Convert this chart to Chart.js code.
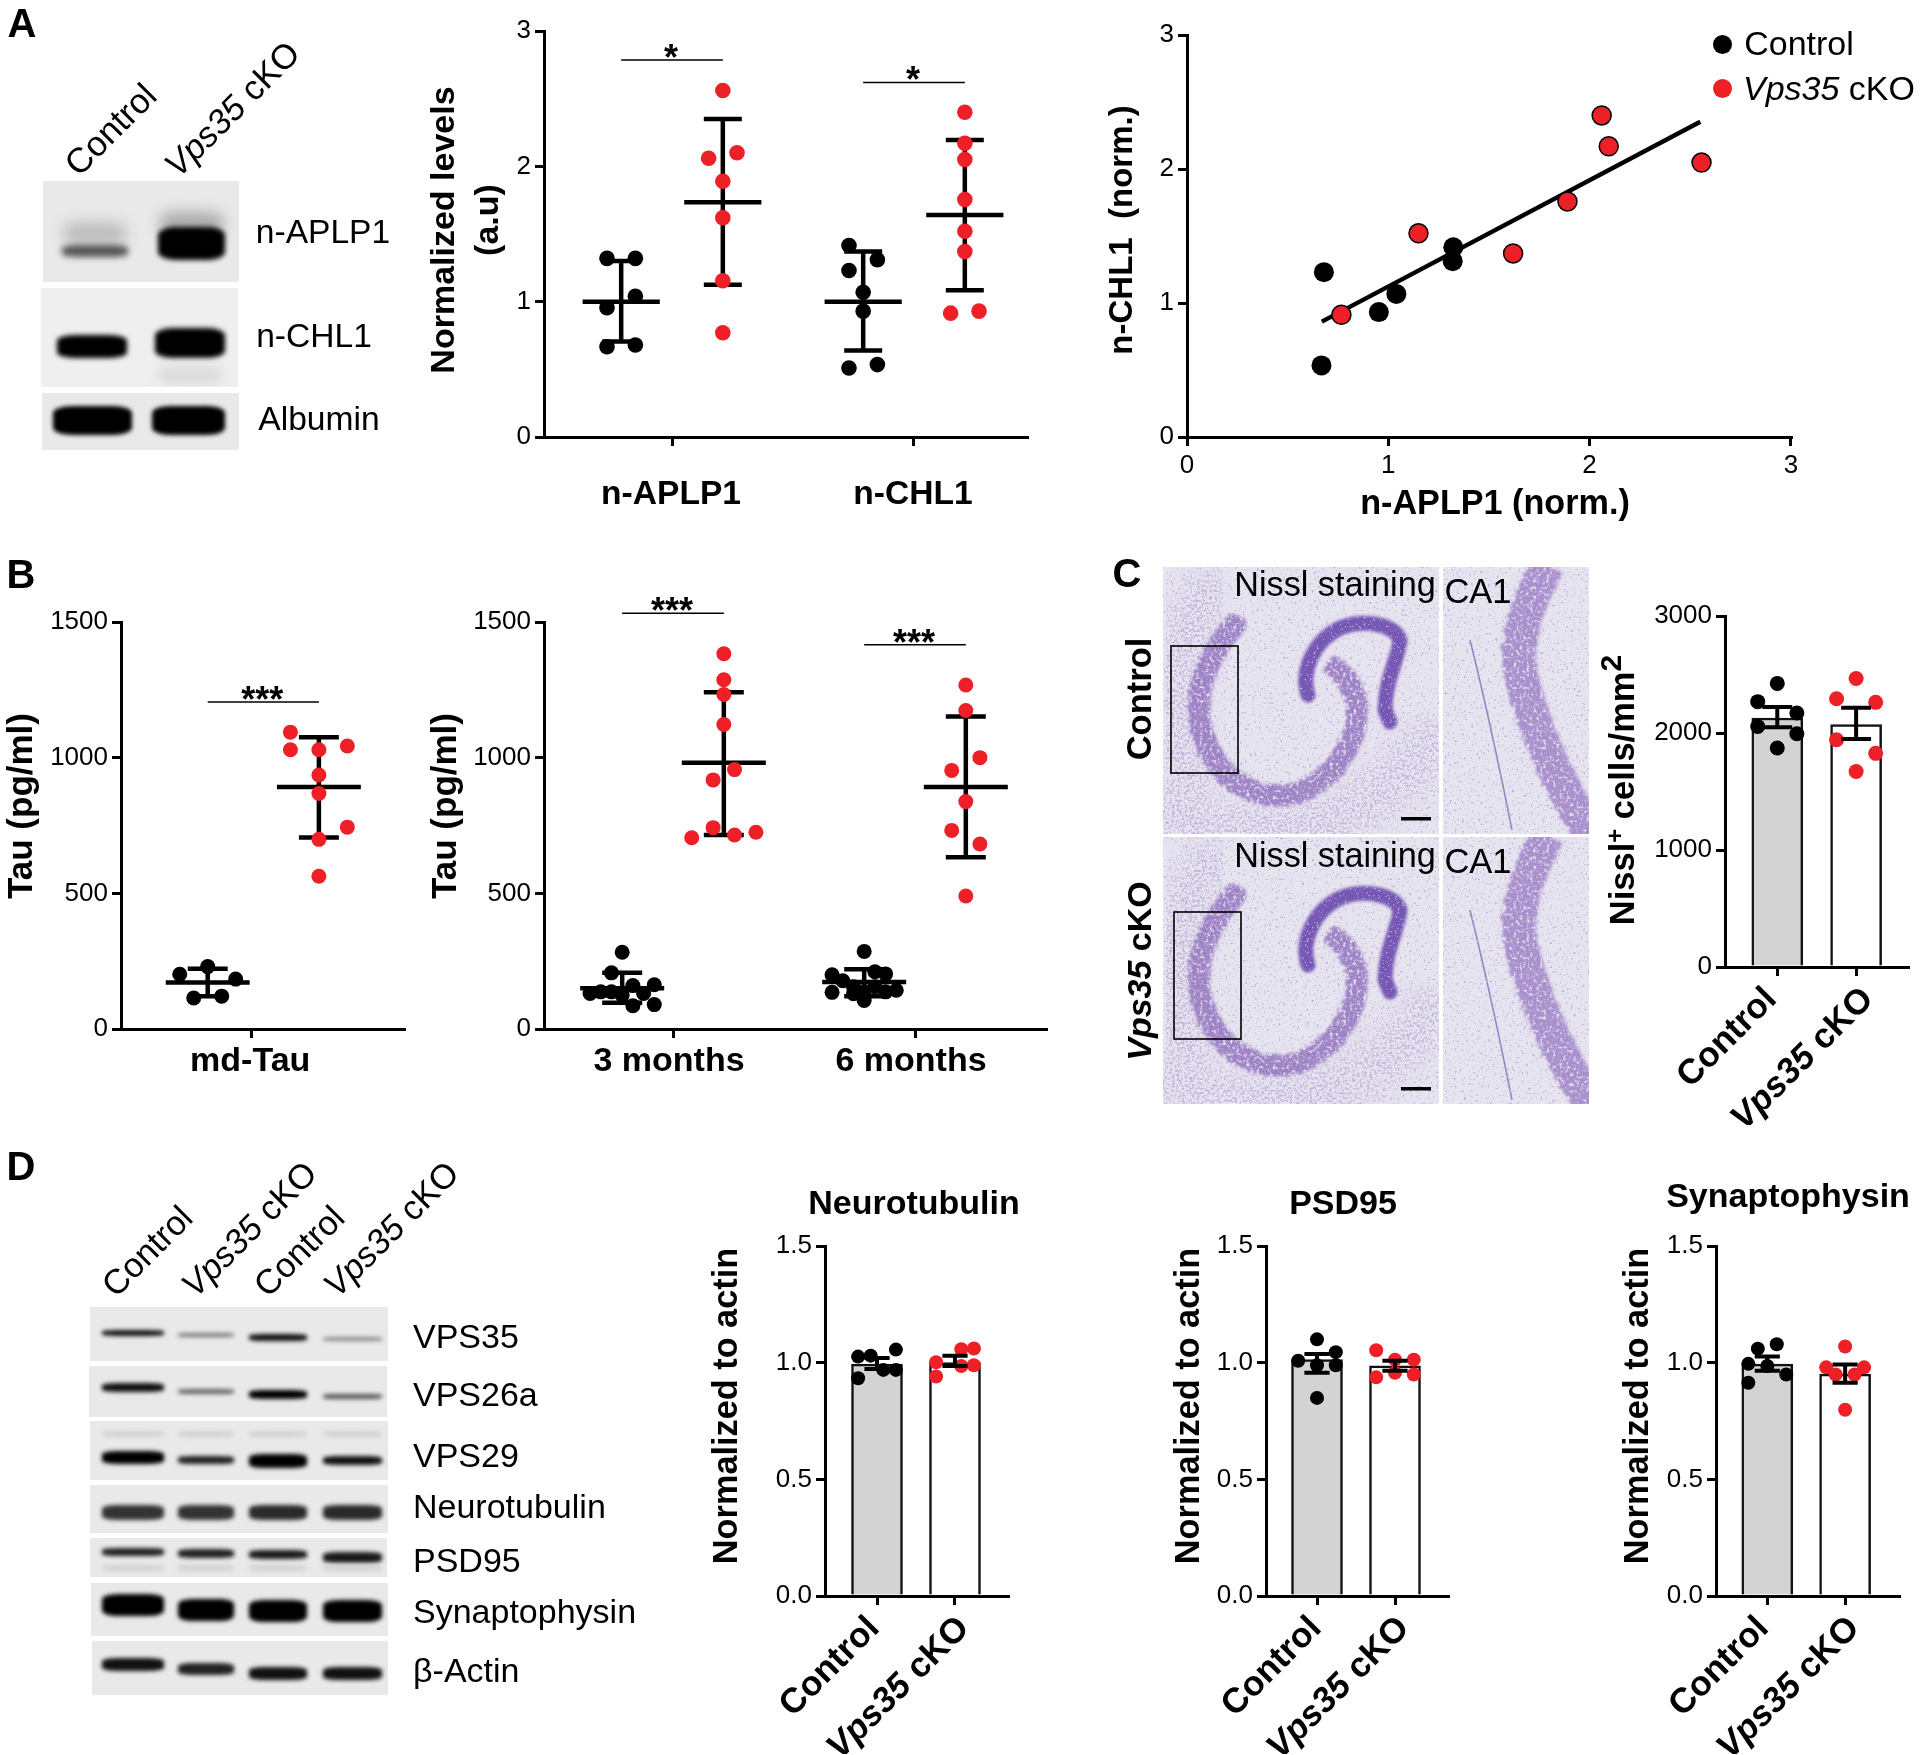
<!DOCTYPE html>
<html>
<head>
<meta charset="utf-8">
<title>Vps35 cKO figure</title>
<script src="https://cdn.jsdelivr.net/npm/chart.js@4/dist/chart.umd.min.js"></script>
<style>
  html, body { margin: 0; background: #fff; }
  #fig { position: relative; width: 1920px; height: 1755px; overflow: hidden; font-family: "Liberation Sans", Arial, sans-serif; color: #000; }
  #fig canvas, #fig svg { position: absolute; }
  .lbl { position: absolute; white-space: pre; line-height: 1; }
  .blot { position: absolute; background: #e9e9e9; overflow: hidden; }
  .band { position: absolute; border-radius: 25%; }
  .dot { position: absolute; border-radius: 50%; }
</style>
</head>
<body>
<div id="fig"></div>
<script>
// Panel A, dot plot
const levelTicks = [0, 1, 2, 3];
const levelCategories = ['n-APLP1', 'n-CHL1'];
const aplp1Ctrl = [1.32, 1.32, 1.04, 0.955, 0.667, 0.68];
const aplp1CtrlSlots = [-1, 1, 1, -1, -1, 1];
const aplp1CtrlStats = [1.0, 0.705, 1.3];
const aplp1Ko = [2.56, 2.06, 2.1, 1.89, 1.62, 1.155, 0.77];
const aplp1KoSlots = [0, -1, 1, 0, 0, 0, 0];
const aplp1KoStats = [1.735, 1.125, 2.35];
const chl1Ctrl = [1.415, 1.31, 1.23, 1.07, 0.93, 0.51, 0.535];
const chl1CtrlSlots = [-1, 1, -1, 0, 0, -1, 1];
const chl1CtrlStats = [1.0, 0.64, 1.37];
const chl1Ko = [2.4, 2.17, 2.05, 1.755, 1.52, 1.37, 0.915, 0.93];
const chl1KoSlots = [0, 0, 0, 0, 0, 0, -1, 1];
const chl1KoStats = [1.64, 1.085, 2.195];

// Panel A, correlation
const corrTicks = [0, 1, 2, 3];
const corrCtrlX = [0.68, 0.668, 0.953, 1.04, 1.32, 1.323];
const corrCtrlY = [1.23, 0.534, 0.932, 1.068, 1.312, 1.416];
const corrKoX = [0.767, 1.15, 1.62, 1.89, 2.06, 2.095, 2.556];
const corrKoY = [0.912, 1.52, 1.37, 1.758, 2.4, 2.169, 2.048];
const corrFitX = [0.67, 2.55];
const corrFitY = [0.861, 2.353];

// Panel B
const tauTicks = [0, 500, 1000, 1500];
const mdCategories = ['md-Tau'];
const monthCategories = ['3 months', '6 months'];
const mdCtrl = [230, 202, 184, 114, 121];
const mdCtrlSlots = [0, -1, 1, -0.5, 0.5];
const mdCtrlStats = [171, 121, 222];
const mdKo = [1094, 1029, 1029, 1043, 936, 868, 744, 699, 563];
const mdKoSlots = [-1, -1, 0, 1, 0, 0, 1, 0, 0];
const mdKoStats = [892, 706, 1075];
const m3Ctrl = [283, 207, 160, 163, 131, 137, 137, 125, 131, 90, 86];
const m3CtrlSlots = [0, -1, 1, 3, -3, -2, -1, 0, 2, 3, 1];
const m3CtrlStats = [150, 97, 207];
const m3Ko = [1383, 1287, 1233, 1122, 956, 918, 742, 725, 715, 705];
const m3KoSlots = [0, 0, 0, 0, 1, -1, -1, 3, 1, -3];
const m3KoStats = [981, 715, 1241];
const m6Ctrl = [286, 211, 203, 200, 178, 156, 135, 130, 105, 137, 143, 156, 137];
const m6CtrlSlots = [0, 1, 2, -3, -2, -1, -3, -1, 0, 2, 3, 1, 0];
const m6CtrlStats = [173, 121, 220];
const m6Ko = [1268, 1174, 1000, 953, 838, 732, 682, 490];
const m6KoSlots = [0, 0, 1, -1, 0, -1, 1, 0];
const m6KoStats = [892, 633, 1152];

// Panels C and D
const barCategories = ['Control', 'Vps35 cKO'];
const nisslTicks = [0, 1000, 2000, 3000];
const nisslMeans = [2128, 2073];
const nisslCtrl = [2424, 2268, 2171, 2055, 1994, 1872];
const nisslCtrlSlots = [0, -1, 1, -1, 1, 0];
const nisslCtrlErr = [2049, 2222];
const nisslKo = [2466, 2293, 2262, 1942, 1826, 1671];
const nisslKoSlots = [0, -1, 1, -1, 1, 0];
const nisslKoErr = [1948, 2216];

const actinTicks = [0, 0.5, 1, 1.5];
const neuroMeans = [0.994, 1.0];
const neuroCtrl = [1.026, 1.03, 1.056, 0.969, 0.969, 0.933];
const neuroCtrlSlots = [-1.5, -0.5, 1.5, 0.5, 1.5, -1.5];
const neuroCtrlErr = [0.973, 1.02];
const neuroKo = [1.058, 1.061, 1.002, 0.986, 0.989, 0.941];
const neuroKoSlots = [0.5, 1.5, -1.5, 0.5, 1.5, -1.5];
const neuroKoErr = [0.986, 1.03];
const psdMeans = [1.013, 0.986];
const psdCtrl = [1.1, 1.008, 1.045, 0.989, 0.989, 0.849];
const psdCtrlSlots = [0, -1, 1, 0, 1, 0];
const psdCtrlErr = [0.957, 1.037];
const psdKo = [1.053, 1.013, 1.013, 0.937, 0.949, 0.957];
const psdKoSlots = [-1, 0, 1, -1, 1, 0];
const psdKoErr = [0.965, 1.008];
const synMeans = [0.994, 0.951];
const synCtrl = [1.079, 1.06, 0.995, 0.986, 0.949, 0.914];
const synCtrlSlots = [0.5, -0.5, -1, 0, 1, -1];
const synCtrlErr = [0.965, 1.026];
const synKo = [1.069, 0.98, 0.98, 0.949, 0.949, 0.798];
const synKoSlots = [0, -1, 1, -0.5, 0.5, 0];
const synKoErr = [0.914, 0.992];

const RED = '#ee2027';
const GREY = '#d3d3d3';
const FONT = '"Liberation Sans", Arial, sans-serif';
const fig = document.getElementById('fig');

// ---- small dataset builders ----
function swarm(values, slots, center, slotWidth, color, radius, order) {
  return {
    type: 'scatter', order, clip: false,
    data: values.map((v, i) => ({ x: center + slots[i] * slotWidth, y: v })),
    pointRadius: radius, pointHoverRadius: radius,
    backgroundColor: color, borderColor: color, pointBorderWidth: 0
  };
}

function segments(parts, width, order) {
  const data = [];
  parts.forEach(p => { data.push(p[0], p[1], { x: null, y: null }); });
  return {
    type: 'scatter', order, clip: false, showLine: true, data,
    pointRadius: 0, borderColor: '#000', borderWidth: width, borderCapStyle: 'butt', spanGaps: false
  };
}

function errBars(center, low, high, mean, meanHalf, capHalf, width, order) {
  const parts = [
    [{ x: center, y: low }, { x: center, y: high }],
    [{ x: center - capHalf, y: low }, { x: center + capHalf, y: low }],
    [{ x: center - capHalf, y: high }, { x: center + capHalf, y: high }]
  ];
  if (mean !== null) parts.push([{ x: center - meanHalf, y: mean }, { x: center + meanHalf, y: mean }]);
  return segments(parts, width, order);
}

// significance lines get their stars from this plugin
const starPlugin = {
  id: 'stars',
  afterDatasetsDraw(chart, args, opts) {
    const ctx = chart.ctx;
    ctx.save();
    ctx.font = 'bold 36px ' + FONT;
    ctx.textAlign = 'center';
    ctx.fillStyle = '#000';
    (opts.items || []).forEach(s => {
      const x = chart.scales.x.getPixelForValue((s[0] + s[1]) / 2);
      ctx.fillText(s[3], x - 1, chart.scales.y.getPixelForValue(s[2]) + 10);
    });
    ctx.restore();
  }
};

// rotated category labels, Vps35 in italics
const slantPlugin = {
  id: 'slant',
  afterDraw(chart, args, opts) {
    const ctx = chart.ctx;
    const sx = chart.scales.x;
    sx.ticks.forEach((t, i) => {
      const text = opts.labels[i];
      const parts = text.startsWith('Vps35')
        ? [['Vps35', 'italic bold 35px ' + FONT], [text.slice(5), 'bold 35px ' + FONT]]
        : [[text, 'bold 35px ' + FONT]];
      ctx.save();
      ctx.translate(sx.getPixelForValue(t.value) + opts.dx[i], sx.top + 27);
      ctx.rotate(-Math.PI / 4);
      ctx.textBaseline = 'middle';
      ctx.fillStyle = '#000';
      let total = 0;
      parts.forEach(p => { ctx.font = p[1]; total += ctx.measureText(p[0]).width; });
      let x = -total;
      parts.forEach(p => { ctx.font = p[1]; ctx.fillText(p[0], x, 0); x += ctx.measureText(p[0]).width; });
      ctx.restore();
    });
  }
};

function plot(o) {
  const ml = 90, mr = 22, mt = 60, mb = o.mb || 120;
  const canvas = document.createElement('canvas');
  canvas.width = o.r - o.l + ml + mr;
  canvas.height = o.b - o.t + mt + mb;
  canvas.style.left = (o.l - ml) + 'px';
  canvas.style.top = (o.t - mt) + 'px';
  fig.appendChild(canvas);
  const axisGrid = { drawOnChartArea: false, tickLength: 9, tickWidth: 3, tickColor: '#000', lineWidth: 3, color: '#000', offset: false };
  return new Chart(canvas, {
    type: o.type || 'scatter',
    data: { datasets: o.datasets },
    options: {
      responsive: false,
      animation: false,
      events: [],
      layout: { padding: { top: mt, right: mr, left: 0, bottom: 0 } },
      plugins: {
        legend: { display: false },
        tooltip: { enabled: false },
        stars: { items: o.stars || [] },
        slant: { labels: o.slant || [], dx: o.slantDx || [0, 0] }
      },
      scales: {
        x: {
          type: 'linear', offset: false,
          min: (o.l - o.tick0) / o.unit,
          max: (o.r - o.tick0) / o.unit,
          border: { width: 3, color: '#000' },
          grid: axisGrid,
          afterBuildTicks: s => { s.ticks = o.xValues.map(v => ({ value: v })); },
          afterFit: s => { s.height = mb; },
          ticks: {
            display: !o.slant,
            autoSkip: false, maxRotation: 0, minRotation: 0,
            padding: o.xPad === undefined ? 3 : o.xPad,
            labelOffset: o.xShift || 0,
            color: '#000',
            font: { family: FONT, size: o.xSize || 34, weight: o.xWeight || 'bold' },
            callback: (v, i) => o.xLabels ? o.xLabels[i] : String(v)
          }
        },
        y: {
          type: 'linear',
          min: o.yTicks[0],
          max: o.yTicks[o.yTicks.length - 1],
          border: { width: 3, color: '#000' },
          grid: axisGrid,
          afterBuildTicks: s => { s.ticks = o.yTicks.map(v => ({ value: v })); },
          afterFit: s => { s.width = ml; },
          ticks: {
            padding: 4, color: '#000',
            font: { family: FONT, size: 26 },
            callback: v => o.yDigits ? v.toFixed(o.yDigits) : String(v)
          }
        }
      }
    },
    plugins: [starPlugin].concat(o.slant ? [slantPlugin] : [])
  });
}

// ---- panel A dot plot ----
const aUnit = 242, aSlot = 14.2 / aUnit, aMean = 38.6 / aUnit, aCap = 19 / aUnit;
function dotGroup(values, slots, stats, center, slot, color) {
  return [
    swarm(values, slots, center, slot, color, 7.8, 1),
    errBars(center, stats[1], stats[2], stats[0], aMean, aCap, 4.5, 2)
  ];
}
plot({
  l: 544, t: 31, r: 1027, b: 437, tick0: 672, unit: aUnit,
  yTicks: levelTicks, xValues: [0, 1], xLabels: levelCategories, xPad: 29, xShift: -1, xSize: 33.6,
  stars: [[-0.21, 0.21, 2.785, '*'], [0.79, 1.21, 2.62, '*']],
  datasets: [
    ...dotGroup(aplp1Ctrl, aplp1CtrlSlots, aplp1CtrlStats, -0.21, aSlot, '#000'),
    ...dotGroup(aplp1Ko, aplp1KoSlots, aplp1KoStats, 0.21, aSlot, RED),
    ...dotGroup(chl1Ctrl, chl1CtrlSlots, chl1CtrlStats, 0.79, aSlot, '#000'),
    ...dotGroup(chl1Ko, chl1KoSlots, chl1KoStats, 1.21, aSlot, RED),
    segments([[{ x: -0.21, y: 2.785 }, { x: 0.21, y: 2.785 }], [{ x: 0.79, y: 2.62 }, { x: 1.21, y: 2.62 }]], 1.5, 3)
  ]
});

// ---- panel A correlation ----
plot({
  l: 1187, t: 35, r: 1791, b: 437, tick0: 1187, unit: 201.3,
  yTicks: corrTicks, xValues: corrTicks, xSize: 26, xWeight: 'normal', xPad: 4,
  datasets: [
    { type: 'scatter', order: 1, clip: false, data: corrKoX.map((x, i) => ({ x, y: corrKoY[i] })),
      pointRadius: 9.5, backgroundColor: RED, borderColor: '#000', pointBorderWidth: 1.5 },
    { type: 'scatter', order: 3, clip: false, data: corrCtrlX.map((x, i) => ({ x, y: corrCtrlY[i] })),
      pointRadius: 10, backgroundColor: '#000', borderColor: '#000', pointBorderWidth: 0 },
    segments([[{ x: corrFitX[0], y: corrFitY[0] }, { x: corrFitX[1], y: corrFitY[1] }]], 4.5, 2)
  ]
});

// ---- panel B ----
const bSlot = 10.7 / aUnit, bSlotKo = 14.1 / aUnit, bMean = 42 / aUnit, bCap = 20 / aUnit;
function tauGroup(values, slots, stats, center, slot, color) {
  return [
    swarm(values, slots, center, slot, color, 7.5, 1),
    errBars(center, stats[1], stats[2], stats[0], bMean, bCap, 4.5, 2)
  ];
}
plot({
  l: 120.6, t: 622, r: 404, b: 1029, tick0: 251, unit: aUnit,
  yTicks: tauTicks, xValues: [0], xLabels: mdCategories, xShift: -1,
  stars: [[-0.18, 0.28, 1205, '***']],
  datasets: [
    ...tauGroup(mdCtrl, mdCtrlSlots, mdCtrlStats, -0.18, 28 / aUnit, '#000'),
    ...tauGroup(mdKo, mdKoSlots, mdKoStats, 0.28, 28.5 / aUnit, RED),
    segments([[{ x: -0.18, y: 1205 }, { x: 0.28, y: 1205 }]], 1.5, 3)
  ]
});
plot({
  l: 544, t: 622, r: 1046, b: 1029, tick0: 673, unit: aUnit,
  yTicks: tauTicks, xValues: [0, 1], xLabels: monthCategories, xShift: -4,
  stars: [[-0.21, 0.21, 1532, '***'], [0.79, 1.21, 1416, '***']],
  datasets: [
    ...tauGroup(m3Ctrl, m3CtrlSlots, m3CtrlStats, -0.21, bSlot, '#000'),
    ...tauGroup(m3Ko, m3KoSlots, m3KoStats, 0.21, bSlot, RED),
    ...tauGroup(m6Ctrl, m6CtrlSlots, m6CtrlStats, 0.79, bSlot, '#000'),
    ...tauGroup(m6Ko, m6KoSlots, m6KoStats, 1.21, bSlotKo, RED),
    segments([[{ x: -0.21, y: 1532 }, { x: 0.21, y: 1532 }], [{ x: 0.79, y: 1416 }, { x: 1.21, y: 1416 }]], 1.5, 3)
  ]
});

// ---- bar panels ----
function barPlot(o, means, ctrl, ctrlSlots, ctrlErr, ko, koSlots, koErr, slot, cap, radius) {
  return plot({
    ...o, type: 'bar', xValues: [0, 1], slant: barCategories, mb: 158,
    datasets: [
      errBars(0, ctrlErr[0], ctrlErr[1], null, 0, cap, 4, 1),
      errBars(1, koErr[0], koErr[1], null, 0, cap, 4, 1),
      swarm(ctrl, ctrlSlots, 0, slot, '#000', radius, 2),
      swarm(ko, koSlots, 1, slot, RED, radius, 2),
      {
        type: 'bar', order: 3, barThickness: 51,
        data: means.map((m, i) => ({ x: i, y: m })),
        backgroundColor: [GREY, '#fff'], borderColor: '#111', borderWidth: 2.5
      }
    ]
  });
}
barPlot({ l: 1724.6, t: 616, r: 1908, b: 967, tick0: 1777, unit: 79, yTicks: nisslTicks, slantDx: [-6, 12] },
  nisslMeans, nisslCtrl, nisslCtrlSlots, nisslCtrlErr, nisslKo, nisslKoSlots, nisslKoErr, 19.6 / 79, 15 / 79, 7.5);
barPlot({ l: 825, t: 1245.6, r: 1008, b: 1596, tick0: 877, unit: 78, yTicks: actinTicks, yDigits: 1, slantDx: [-3, 9] },
  neuroMeans, neuroCtrl, neuroCtrlSlots, neuroCtrlErr, neuroKo, neuroKoSlots, neuroKoErr, 12.6 / 78, 12.6 / 78, 7);
barPlot({ l: 1266, t: 1245.6, r: 1448, b: 1596, tick0: 1317, unit: 78, yTicks: actinTicks, yDigits: 1, slantDx: [-1, 9] },
  psdMeans, psdCtrl, psdCtrlSlots, psdCtrlErr, psdKo, psdKoSlots, psdKoErr, 18.8 / 78, 12.6 / 78, 7);
barPlot({ l: 1715.6, t: 1245.6, r: 1899, b: 1596, tick0: 1767, unit: 78, yTicks: actinTicks, yDigits: 1, slantDx: [-4, 9] },
  synMeans, synCtrl, synCtrlSlots, synCtrlErr, synKo, synKoSlots, synKoErr, 19 / 78, 12.6 / 78, 7);

// ---- blots, only sketched with blurred bands ----
function blot(l, t, r, b, bands, bg) {
  const el = document.createElement('div');
  el.className = 'blot';
  el.style.cssText = `left:${l}px;top:${t}px;width:${r - l}px;height:${b - t}px;` + (bg ? `background:${bg};` : '');
  bands.forEach(bd => {
    const [x0, x1, y0, y1, color, blur] = bd;
    const d = document.createElement('div');
    d.className = 'band';
    d.style.cssText = `left:${x0 - l}px;top:${y0 - t}px;width:${x1 - x0}px;height:${y1 - y0}px;background:${color};filter:blur(${blur || 3}px);`;
    el.appendChild(d);
  });
  fig.appendChild(el);
}
blot(43, 181, 239, 282, [[64, 126, 222, 245, '#bdbdbd', 7], [62, 128, 245, 257, '#555', 3], [160, 223, 212, 235, '#aaa', 7], [158, 225, 227, 260, '#000', 2.5]]);
blot(41, 288, 238, 387, [[57, 127, 335, 358, '#000', 2.5], [155, 225, 328, 358, '#000', 2.5], [158, 222, 365, 385, '#ddd', 5]], '#efefef');
blot(42, 393, 239, 450, [[53, 132, 406, 435, '#000', 2], [152, 225, 406, 435, '#000', 2]]);

const lanes = [[102, 164], [178, 234], [249, 307], [323, 382]];
const rows = [
  [90, 388, 1307, 1361, [[1333, 6, '#111'], [1335, 4, '#777'], [1337, 7, '#111'], [1339, 4, '#888']]],
  [89, 387, 1366, 1417, [[1387, 9, '#111'], [1391, 5, '#666'], [1394, 9, '#000'], [1396, 5, '#555']]],
  [90, 388, 1421, 1480, [[1457, 13, '#000'], [1460, 8, '#222'], [1461, 14, '#000'], [1460, 9, '#111']], 1434],
  [90, 388, 1485, 1533, [[1512, 15, '#333'], [1512, 15, '#333'], [1512, 15, '#2a2a2a'], [1512, 15, '#2a2a2a']]],
  [90, 387, 1538, 1577, [[1552, 8, '#222'], [1553, 9, '#222'], [1554, 9, '#1a1a1a'], [1557, 11, '#1a1a1a']], 1568],
  [91, 388, 1583, 1636, [[1605, 22, '#000'], [1610, 22, '#000'], [1611, 22, '#000'], [1611, 22, '#000']]],
  [92, 388, 1641, 1695, [[1664, 13, '#111'], [1669, 12, '#222'], [1673, 13, '#111'], [1673, 13, '#111']]]
];
rows.forEach(row => {
  const bands = row[4].map((b, i) => [lanes[i][0], lanes[i][1], b[0] - b[1] / 2, b[0] + b[1] / 2, b[2], 2]);
  if (row[5]) lanes.forEach(l => bands.push([l[0], l[1], row[5] - 3, row[5] + 3, '#d2d2d2', 2]));
  blot(row[0], row[2], row[1], row[3], bands);
});

// ---- Nissl sections, sketched in SVG ----
function section(id, dy, boxX) {
  return `
  <clipPath id="cL${id}"><rect x="1163" y="${567 + dy}" width="276" height="267"/></clipPath>
  <clipPath id="cR${id}"><rect x="1443" y="${567 + dy}" width="146" height="267"/></clipPath>
  <g clip-path="url(#cL${id})">
    <rect x="1163" y="${567 + dy}" width="276" height="267" fill="#e6e4ef"/>
    <g transform="translate(0 ${dy})" fill="none" stroke-linecap="round">
      <path d="M1212 590 C1170 640 1170 730 1190 780" stroke="#a78fcb" stroke-width="44" opacity=".55" filter="url(#faint)"/>
      <path d="M1170 815 C1260 850 1370 830 1432 740" stroke="#a78fcb" stroke-width="50" opacity=".5" filter="url(#faint)"/>
      <path d="M1235 625 C1205 660 1190 700 1205 740 C1222 785 1265 805 1300 792 C1340 775 1360 735 1357 705 C1356 690 1345 675 1336 668" stroke="#8e6dbb" stroke-width="22" opacity=".8" filter="url(#grain)"/>
      <path d="M1308 695 C1300 670 1315 640 1340 628 C1365 618 1395 625 1400 640 C1398 660 1385 680 1385 710 L1390 722" stroke="#6a49ae" stroke-width="15" opacity=".9" filter="url(#soft)"/>
    </g>
    <rect x="1163" y="${567 + dy}" width="276" height="267" filter="url(#speck)"/>
  </g>
  <g clip-path="url(#cR${id})">
    <rect x="1443" y="${567 + dy}" width="146" height="267" fill="#e6e4ef"/>
    <g transform="translate(0 ${dy})" fill="none">
      <path d="M1548 565 C1530 600 1512 640 1522 680 C1535 730 1560 790 1595 840" stroke="#9a7cc4" stroke-width="34" opacity=".8" filter="url(#grain)"/>
      <path d="M1470 640 C1485 700 1500 770 1512 830" stroke="#5c4aa5" stroke-width="1.6" opacity=".6"/>
    </g>
    <rect x="1443" y="${567 + dy}" width="146" height="267" filter="url(#speck)"/>
  </g>
  <rect x="${boxX}" y="${646 + dy + (id ? -4 : 0)}" width="67" height="127" fill="none" stroke="#000" stroke-width="1.6"/>
  <rect x="1401" y="${817 + dy}" width="30" height="3.5" fill="#000"/>`;
}
const svgNS = `<svg width="1920" height="1755" style="left:0;top:0">
  <defs>
    <filter id="soft" x="-30%" y="-30%" width="160%" height="160%"><feGaussianBlur stdDeviation="1.6"/></filter>
    <filter id="grain" x="-30%" y="-30%" width="160%" height="160%">
      <feTurbulence type="fractalNoise" baseFrequency="0.3" numOctaves="2" seed="3" result="n"/>
      <feDisplacementMap in="SourceGraphic" in2="n" scale="10" xChannelSelector="R" yChannelSelector="G" result="d"/>
      <feGaussianBlur in="d" stdDeviation="1" result="b"/>
      <feColorMatrix in="n" values="0 0 0 0 0  0 0 0 0 0  0 0 0 0 0  4 0 0 0 -0.9" result="m"/>
      <feComposite in="b" in2="m" operator="in"/>
    </filter>
    <filter id="faint" x="-30%" y="-30%" width="160%" height="160%">
      <feTurbulence type="fractalNoise" baseFrequency="0.4" numOctaves="2" seed="11" result="n"/>
      <feGaussianBlur in="SourceGraphic" stdDeviation="12" result="d"/>
      <feColorMatrix in="n" values="0 0 0 0 0  0 0 0 0 0  0 0 0 0 0  7 0 0 0 -3.4" result="m"/>
      <feComposite in="d" in2="m" operator="in"/>
    </filter>
    <filter id="speck" x="0" y="0" width="100%" height="100%">
      <feTurbulence type="fractalNoise" baseFrequency="0.42" numOctaves="2" seed="7"/>
      <feColorMatrix values="0 0 0 0 .55  0 0 0 0 .43  0 0 0 0 .75  7 0 0 0 -4.3"/>
    </filter>
  </defs>
  ${section(0, 0, 1171)}${section(1, 270, 1174)}
</svg>`;
fig.insertAdjacentHTML('beforeend', svgNS);

// ---- legend dots ----
[[1722, 44, '#000'], [1722, 88.5, RED]].forEach(d => {
  fig.insertAdjacentHTML('beforeend', `<div class="dot" style="left:${d[0] - 9.5}px;top:${d[1] - 9.5}px;width:19px;height:19px;background:${d[2]}"></div>`);
});

// ---- text: [html, centre x, centre y, size, weight, rotation] ----
const V = '<i>Vps35</i> cKO';
const labels = [
  ['A', 22, 23, 40, 'bold'], ['B', 21, 574, 40, 'bold'], ['C', 1127, 573, 40, 'bold'], ['D', 21, 1166, 40, 'bold'],
  ['Control', 110, 129, 35, 'normal', -45], [V, 232, 109, 34.5, 'normal', -45],
  ['n-APLP1', 323, 232, 33.6], ['n-CHL1', 314, 336, 33.6], ['Albumin', 319, 419, 33.6],
  ['Normalized levels', 442, 230, 34, 'bold', -90], ['(a.u)', 486, 220, 34, 'bold', -90],
  ['n-CHL1  (norm.)', 1120, 230, 33, 'bold', -90], ['n-APLP1 (norm.)', 1495, 502, 34.2, 'bold'],
  ['Control', 1799, 43, 34], [V, 1829, 87.5, 34],
  ['Tau (pg/ml)', 19, 806, 35, 'bold', -90], ['Tau (pg/ml)', 443, 806, 35, 'bold', -90],
  ['Nissl staining', 1335, 584, 34.2], ['CA1', 1478, 591, 34.5], ['Nissl staining', 1335, 855, 34.2], ['CA1', 1478, 861, 34.5],
  ['Control', 1139, 699, 34.5, 'bold', -90], [V, 1139, 971, 34, 'bold', -90],
  ['Nissl<sup style="font-size:24px;vertical-align:11px;line-height:0">+</sup> cells/mm<sup style="font-size:30px;vertical-align:13px;line-height:0">2</sup>', 1622, 790, 34.5, 'bold', -90],
  ['Control', 147, 1251, 34.5, 'normal', -45], [V, 249, 1229, 34.5, 'normal', -45],
  ['Control', 299, 1251, 34.5, 'normal', -45], [V, 391, 1229, 34.5, 'normal', -45],
  ['Neurotubulin', 914, 1202, 34, 'bold'], ['PSD95', 1343, 1202, 34, 'bold'], ['Synaptophysin', 1788, 1195, 34, 'bold'],
  ['Normalized to actin', 725, 1406, 34.3, 'bold', -90], ['Normalized to actin', 1187, 1406, 34.3, 'bold', -90], ['Normalized to actin', 1636, 1406, 34.3, 'bold', -90]
];
labels.forEach(l => {
  const [html, x, y, size, weight, rot] = l;
  const d = document.createElement('div');
  d.className = 'lbl';
  d.innerHTML = html;
  d.style.cssText = `left:${x}px;top:${y}px;font-size:${size}px;font-weight:${weight || 'normal'};transform:translate(-50%,-50%) rotate(${rot || 0}deg);`;
  fig.appendChild(d);
});

// left aligned row names of panel D
[['VPS35', 1336], ['VPS26a', 1394], ['VPS29', 1454.5], ['Neurotubulin', 1506], ['PSD95', 1560], ['Synaptophysin', 1610.5], ['β-Actin', 1669.5]].forEach(r => {
  const d = document.createElement('div');
  d.className = 'lbl';
  d.textContent = r[0];
  d.style.cssText = `left:413px;top:${r[1]}px;font-size:34px;transform:translateY(-50%);`;
  fig.appendChild(d);
});
</script>
</body>
</html>
